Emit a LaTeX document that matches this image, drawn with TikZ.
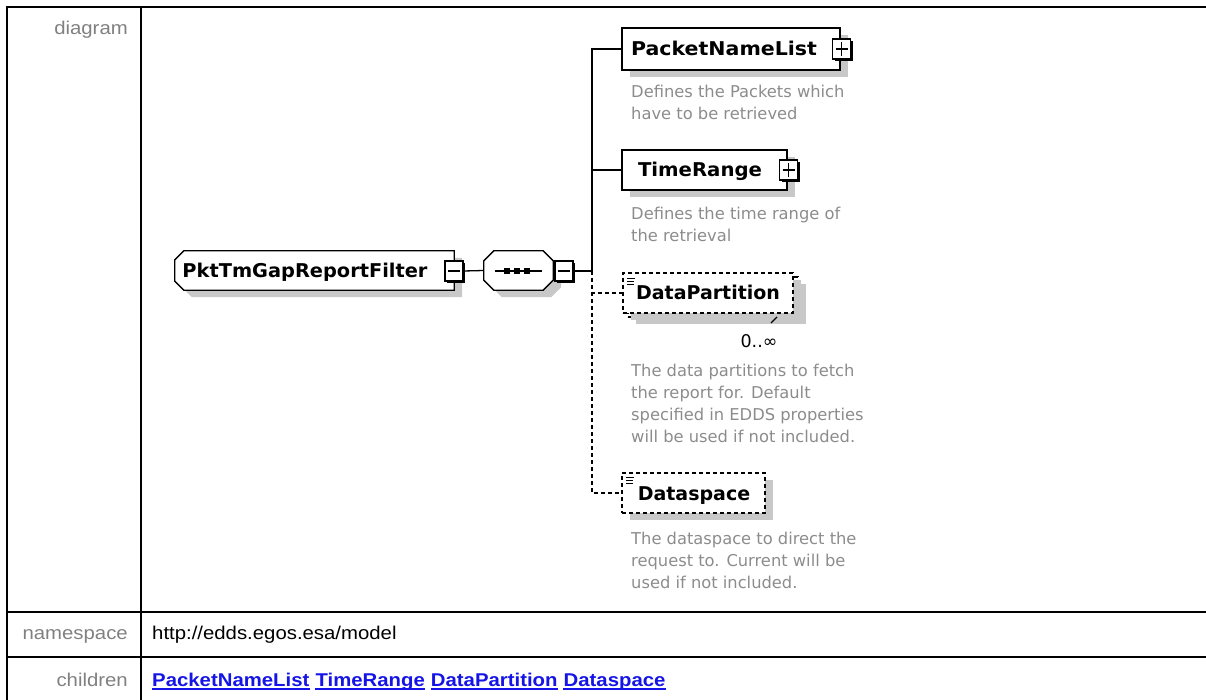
\documentclass[tikz,border=0pt]{standalone}
\usepackage{fontspec}
\setmainfont{DejaVu Sans}
\newfontfamily\arialf{Liberation Sans}
\usetikzlibrary{shadows}
\definecolor{shgray}{RGB}{200,200,200}
\definecolor{lblgray}{RGB}{128,128,128}
\definecolor{descgray}{RGB}{140,140,140}
\definecolor{linkblue}{RGB}{20,20,230}
\newcommand\hst[1]{\scalebox{1.1}[1]{#1}}
\newcommand\fitw[2]{\resizebox{#1pt}{\height}{#2}}
\begin{document}
\begin{tikzpicture}[x=1pt,y=-1pt,line join=miter,
  tbl/.style={line width=2pt},
  conn/.style={line width=1.3pt},
  dconn/.style={line width=1.3pt, dash pattern=on 4pt off 3pt},
  shad/.style={general shadow={fill=shgray, shadow xshift=8pt, shadow yshift=-7pt}},
  elembox/.style={draw, line width=1.3pt, fill=white, inner sep=0, shad},
  optbox/.style={elembox, dash pattern=on 4pt off 3pt},
  pmbox/.style={draw, line width=1.1pt, fill=white, inner sep=0, minimum width=18pt, minimum height=20pt,
     general shadow={fill=black, shadow xshift=2pt, shadow yshift=-2pt}},
  ename/.style={inner sep=0, anchor=base, font=\fontsize{19}{22}\selectfont\bfseries},
  desc/.style={inner sep=0, anchor=base west, text=descgray, font=\fontsize{16.3}{20}\selectfont},
  lbl/.style={inner sep=0, anchor=base east, text=lblgray, font=\arialf\fontsize{18.5}{22}\selectfont},
  val/.style={inner sep=0, anchor=base west, font=\arialf\fontsize{18.5}{22}\selectfont},
  lnk/.style={inner sep=0, anchor=base west, text=linkblue, font=\arialf\bfseries\fontsize{18.5}{22}\selectfont},
  lnkline/.style={linkblue, line width=1.6pt}]
\useasboundingbox (0,0) rectangle (1206,700);

% ---------- table ----------
\draw[tbl] (7,710) -- (7,7) -- (1215,7);
\draw[tbl] (141,7) -- (141,710);
\draw[tbl] (7,612) -- (1215,612);
\draw[tbl] (7,657) -- (1215,657);
\node[lbl] (ldiag) at (128,35) {\hst{diagram}};
\node[lbl] (lns) at (128,639) {\hst{namespace}};
\node[lbl] (lch) at (128,686) {\hst{children}};
\node[val] (vns) at (152,639) {\hst{http://edds.egos.esa/model}};
\node[lnk] (k1) at (152,686) {\hst{PacketNameList}};
\node[lnk] (k2) at ([xshift=5.7pt]k1.base east) {\hst{TimeRange}};
\node[lnk] (k3) at ([xshift=5.7pt]k2.base east) {\hst{DataPartition}};
\node[lnk] (k4) at ([xshift=5.7pt]k3.base east) {\hst{Dataspace}};
\foreach \k in {k1,k2,k3,k4}{\draw[lnkline] ([yshift=-3pt]\k.base west) -- ([yshift=-3pt]\k.base east);}

% ---------- root element ----------
\node[inner sep=0, minimum width=279pt, minimum height=39pt] (root) at (314.5,270.5) {};
\draw[line width=1.3pt, fill=white, shad]
  ([xshift=9pt]root.north west) -- (root.north east) -- (root.south east)
  -- ([xshift=9pt]root.south west) -- ([yshift=9pt]root.south west)
  -- ([yshift=-9pt]root.north west) -- cycle;
\node[ename] (rootname) at (305,278) {\fitw{245}{PktTmGapReportFilter}};
\node[pmbox] (rootm) at (454,271) {};
\draw[line width=1.3pt] ([xshift=3.5pt]rootm.west) -- ([xshift=-3.5pt]rootm.east);

% ---------- sequence compositor ----------
\node[inner sep=0, minimum width=69pt, minimum height=39pt] (seq) at (518.5,270.5) {};
\draw[line width=1.3pt, fill=white, shad]
  ([xshift=10pt]seq.north west) -- ([xshift=-10pt]seq.north east) -- ([yshift=-10pt]seq.north east)
  -- ([yshift=10pt]seq.south east) -- ([xshift=-10pt]seq.south east) -- ([xshift=10pt]seq.south west)
  -- ([yshift=10pt]seq.south west) -- ([yshift=-10pt]seq.north west) -- cycle;
\draw[line width=1.3pt] (495,271) -- (542,271);
\foreach \sx in {507,517,527}{\fill (\sx-3,268) rectangle (\sx+3,274);}
\node[pmbox] (seqm) at (564,271) {};
\draw[line width=1.3pt] ([xshift=3.5pt]seqm.west) -- ([xshift=-3.5pt]seqm.east);
\draw[conn] (rootm.east) -- (seq.west);
\coordinate (bus) at (592,271);
\draw[conn] (seqm.east) -- (bus);

% ---------- children ----------
\node[elembox, minimum width=218pt, minimum height=42pt] (pnl) at (731,49) {};
\node[ename] (pnlname) at (724,56) {\fitw{186}{PacketNameList}};
\node[pmbox] (pnlp) at ([xshift=1pt]pnl.east) {};
\draw[line width=1.3pt] ([xshift=3.5pt]pnlp.west) -- ([xshift=-3.5pt]pnlp.east)
  ([yshift=-3.5pt]pnlp.north) -- ([yshift=3.5pt]pnlp.south);
\node[desc] (d1a) at (631,98) {Defines the Packets which};
\node[desc] (d1b) at (631,120) {have to be retrieved};

\node[elembox, minimum width=165pt, minimum height=40pt] (tr) at (704.5,170) {};
\node[ename] (trname) at (700,177) {\fitw{124}{TimeRange}};
\node[pmbox] (trp) at ([xshift=1pt]tr.east) {};
\draw[line width=1.3pt] ([xshift=3.5pt]trp.west) -- ([xshift=-3.5pt]trp.east)
  ([yshift=-3.5pt]trp.north) -- ([yshift=3.5pt]trp.south);
\node[desc] (d2a) at (631,220) {Defines the time range of};
\node[desc] (d2b) at (631,242) {the retrieval};

\node[optbox, minimum width=170pt, minimum height=40pt] (dpback) at (713,297) {};
\node[optbox, minimum width=170pt, minimum height=40pt, general shadow={}] (dp) at (708,293) {};
\draw[line width=1pt] (627,279) -- (635,279) (627,282) -- (634,282) (627,285) -- (634,285);
\node[ename] (dpname) at (708,300) {DataPartition};
\draw[line width=1.2pt, shgray] (764,317) -- (771,323);
\draw[line width=1.2pt] (771,323) -- (777,317);
\node[inner sep=0, anchor=base, font=\fontsize{17.5}{20}\selectfont] (dpcard) at (759,347) {0..∞};
\node[desc] (d3a) at (631,376) {The data partitions to fetch};
\node[desc] (d3b) at (631,398) {the report for. Default};
\node[desc] (d3c) at (631,420) {specified in EDDS properties};
\node[desc] (d3d) at (631,442) {will be used if not included.};

\node[optbox, minimum width=143pt, minimum height=40pt] (ds) at (693.5,493) {};
\draw[line width=1pt] (626,477) -- (634,477) (626,480) -- (633,480) (626,483) -- (633,483);
\node[ename] (dsname) at (694,500) {Dataspace};
\node[desc] (d4a) at (631,544) {The dataspace to direct the};
\node[desc] (d4b) at (631,566) {request to. Current will be};
\node[desc] (d4c) at (631,588) {used if not included.};

% ---------- connectors ----------
\draw[conn] (bus) |- (pnl.west);
\draw[conn] (bus |- tr.west) -- (tr.west);
\draw[dconn] (bus) |- (dp.west);
\draw[dconn] (bus) |- (ds.west);
\end{tikzpicture}
\end{document}
